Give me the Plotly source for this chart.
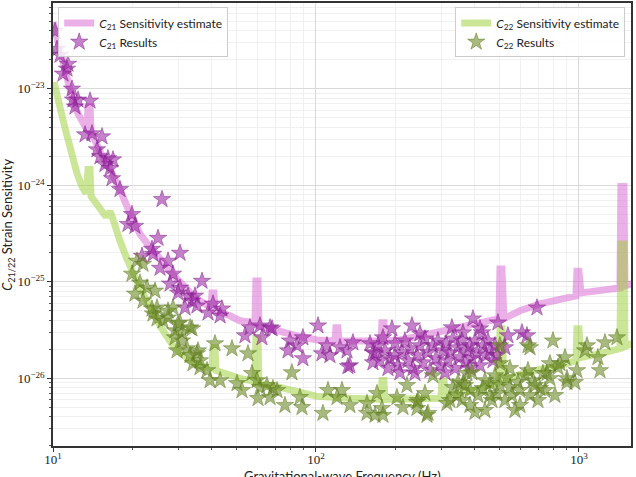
import plotly.graph_objects as go

# ---------------- data ----------------
c21_freq = [10.0, 10.35, 10.82, 11.2, 11.8, 12.45, 13.1, 13.47, 13.59, 13.83, 13.95, 14.44, 15.09, 16.05,
            16.91, 17.98, 19.11, 20.15, 21.42, 22.78, 24.43, 26.2, 27.86, 29.62, 31.77, 34.07, 36.23,
            38.52, 39.89, 40.24, 40.95, 41.3, 43.9, 47.1, 51.4, 56.1, 58.6, 59.1, 60.2, 60.7, 66.9, 73.0,
            79.6, 86.9, 100.9, 118.1, 119.1, 121.2, 122.3, 147.0, 176.6, 178.2, 181.4, 183.0, 208.6,
            248.6, 296.2, 352.7, 420.4, 496.4, 500.8, 509.6, 518.6, 596.8, 710.9, 847.1, 974.1, 982.6,
            1000, 1017.6, 1201.7, 1432, 1444, 1483, 1496, 1591]
c21_sens = [4.9e-23, 3.44e-23, 2.14e-23, 1.33e-23, 8.27e-24, 5.52e-24, 4.06e-24, 3.78e-24, 6.52e-24, 6.52e-24,
            3.6e-24, 2.84e-24, 2.24e-24, 1.69e-24, 1.3e-24, 9.1e-25, 6.07e-25, 4.25e-25, 3.13e-25, 2.52e-25,
            1.99e-25, 1.65e-25, 1.3e-25, 1.07e-25, 8.9e-26, 7.17e-26, 6.37e-26, 5.66e-26, 5.4e-26, 7.7e-26,
            7.7e-26, 5.02e-26, 4.79e-26, 4.46e-26, 3.96e-26, 3.78e-26, 3.78e-26, 1.02e-25, 1.02e-25, 3.52e-26,
            3.28e-26, 2.98e-26, 2.84e-26, 2.71e-26, 2.5e-26, 2.45e-26, 3.36e-26, 3.36e-26, 2.45e-26, 2.4e-26,
            2.45e-26, 3.78e-26, 3.78e-26, 2.45e-26, 2.5e-26, 2.75e-26, 3.05e-26, 3.36e-26, 3.78e-26, 4.16e-26,
            1.36e-25, 1.36e-25, 4.16e-26, 5.02e-26, 5.93e-26, 6.52e-26, 7.17e-26, 1.29e-25, 1.29e-25, 7.7e-26,
            8.07e-26, 8.67e-26, 9.77e-25, 9.77e-25, 9.1e-26, 9.55e-26]

c22_freq = [10.09, 10.35, 10.73, 11.2, 11.71, 12.34, 12.89, 13.35, 13.59, 13.83, 13.95, 14.44, 15.09, 15.76,
            16.18, 16.47, 16.76, 17.21, 17.98, 19.11, 20.15, 21.42, 22.78, 24.0, 25.52, 27.13, 28.6, 30.41,
            33.2, 36.23, 40.24, 40.6, 41.3, 41.67, 47.1, 51.4, 58.6, 59.1, 60.2, 60.7, 73.0, 86.9, 100.9,
            134.6, 176.6, 178.2, 181.4, 183.0, 227.8, 298.8, 301.4, 306.7, 312.1, 352.7, 420.4, 496.4, 500.8,
            509.6, 518.6, 596.8, 710.9, 847.1, 974.1, 982.6, 1000, 1017.6, 1201.7, 1432, 1444, 1483, 1496, 1591]
c22_sens = [1.18e-23, 8.27e-24, 5.79e-24, 3.6e-24, 2.24e-24, 1.33e-24, 9.77e-25, 8.27e-25, 1.46e-24, 1.46e-24,
            7.7e-25, 6.84e-25, 5.79e-25, 4.91e-25, 4.91e-25, 5.4e-25, 4.79e-25, 3.69e-25, 2.65e-25, 1.73e-25,
            1.24e-25, 8.67e-26, 6.37e-26, 4.79e-26, 3.52e-26, 2.71e-26, 2.19e-26, 1.85e-26, 1.53e-26, 1.36e-26,
            1.27e-26, 2.09e-26, 2.09e-26, 1.21e-26, 1.07e-26, 1.0e-26, 9.31e-27, 2.58e-26, 2.58e-26, 8.88e-27,
            8.07e-27, 7.17e-27, 6.52e-27, 6.22e-27, 6.07e-27, 9.53e-27, 9.53e-27, 6.07e-27, 6.07e-27, 6.22e-27,
            1.0e-26, 9.53e-27, 6.68e-27, 7.0e-27, 7.88e-27, 9.1e-27, 3.28e-26, 3.28e-26, 9.53e-27, 1.1e-26,
            1.24e-26, 1.36e-26, 1.53e-26, 3.28e-26, 3.28e-26, 1.65e-26, 1.81e-26, 2.04e-26, 2.47e-25, 2.47e-25,
            2.14e-26, 2.3e-26]

c21_res_freq = [10.18, 10.35, 10.63, 11.4, 11.3, 10.91, 11.81, 11.91, 12.45, 13.83, 12.12, 13.24, 14.07, 15.36,
                14.7, 15.09, 16.18, 16.91, 15.76, 16.47, 16.76, 17.98, 25.97, 19.97, 19.28, 20.5, 25.08, 23.79,
                24.0, 21.8, 30.41, 27.38, 25.52, 28.6, 36.87, 27.86, 30.41, 29.88, 32.62, 34.67, 33.77, 31.77,
                35.28, 40.6, 38.86, 43.9, 43.2, 56.1, 61.25, 66.9, 53.7, 62.3, 79.6, 78.3, 84.7, 68.1, 89.2,
                89.2, 101.8, 110.1, 105.4, 113.0, 123.4, 131.2, 138.2, 134.6, 160.5, 164.7, 179.8, 194.5, 231.7,
                248.6, 328.9, 395.4, 420.4, 492, 362.2, 692.5, 537, 607.3, 634.5, 427.9, 132.3, 167.7, 164.7,
                172.1, 183.0, 191.1, 199.7, 205.0, 212.3, 217.9, 223.8, 227.8, 233.8, 242.1, 248.6, 255.2, 259.7,
                266.6, 271.4, 278.6, 285.9, 291.0, 296.2, 304.0, 312.1, 317.7, 323.2, 331.8, 337.7, 346.7, 352.7,
                359.1, 368.6, 375.1, 385.1, 391.9, 402.4, 409.4, 420.4, 431.5, 443.1, 450.8, 458.7, 471.0, 479.3,
                487.6, 187.8, 208.6, 237.9, 309.4, 385.1, 175.1, 199.7, 523.2]
c21_res_val = [3.96e-23, 2.58e-23, 2.24e-23, 1.81e-23, 1.61e-23, 1.43e-23, 1.0e-23, 7.7e-24, 7.7e-24, 7.52e-24,
               6.52e-24, 3.36e-24, 3.44e-24, 3.2e-24, 2.35e-24, 1.99e-24, 1.9e-24, 1.85e-24, 1.65e-24, 1.5e-24,
               1.18e-24, 9.1e-25, 7.17e-25, 5.02e-25, 3.96e-25, 3.78e-25, 2.84e-25, 2.19e-25, 1.94e-25, 1.85e-25,
               1.99e-25, 1.65e-25, 1.39e-25, 1.21e-25, 1.02e-25, 9.55e-26, 8.67e-26, 7.7e-26, 7.17e-26, 7.17e-26,
               6.37e-26, 5.4e-26, 5.66e-26, 5.93e-26, 4.79e-26, 5.27e-26, 4.46e-26, 3.36e-26, 3.52e-26, 3.36e-26,
               2.78e-26, 2.65e-26, 2.46e-26, 1.94e-26, 2.19e-26, 3.28e-26, 2.65e-26, 1.61e-26, 3.52e-26, 2.19e-26,
               1.81e-26, 1.73e-26, 2.09e-26, 1.94e-26, 2.35e-26, 1.36e-26, 2.3e-26, 1.85e-26, 2.65e-26, 3.28e-26,
               3.52e-26, 2.91e-26, 3.36e-26, 4.16e-26, 3.28e-26, 3.78e-26, 2.98e-26, 5.4e-26, 2.78e-26, 2.98e-26,
               2.78e-26, 2.98e-26, 1.33e-26, 1.81e-26, 1.46e-26,
               2.19e-26, 1.94e-26, 1.61e-26, 2.3e-26, 1.36e-26, 1.85e-26, 2.46e-26, 1.53e-26, 2.04e-26, 1.27e-26,
               1.73e-26, 2.19e-26, 1.46e-26, 2.58e-26, 1.85e-26, 1.21e-26, 2.19e-26, 1.61e-26, 2.46e-26, 1.36e-26,
               1.94e-26, 2.3e-26, 1.53e-26, 1.85e-26, 2.58e-26, 1.27e-26, 2.09e-26, 1.65e-26, 2.46e-26, 1.46e-26,
               1.94e-26, 2.19e-26, 1.61e-26, 2.46e-26, 1.81e-26, 1.36e-26, 2.19e-26, 1.73e-26, 2.46e-26, 1.94e-26,
               1.53e-26, 2.19e-26, 1.73e-26, 1.27e-26, 1.15e-26, 1.13e-26, 1.15e-26, 1.27e-26, 1.53e-26, 1.73e-26,
               2.09e-26]

c22_res_freq = [20.86, 21.99, 19.97, 21.42, 20.5, 22.78, 24.43, 21.99, 24.86, 24.0, 27.38, 26.2, 30.41, 33.77,
                29.1, 30.95, 29.62, 32.33, 35.28, 34.07, 36.23, 23.79, 28.6, 24.86, 27.38, 29.88, 33.2, 30.95,
                29.1, 35.59, 33.2, 36.23, 41.3, 47.93, 55.14, 38.52, 39.54, 43.2, 57.1, 59.7, 50.1, 52.33, 61.25,
                68.6, 60.2, 66.9, 81.0, 76.2, 71.1, 65.1, 86.9, 111.1, 125.6, 120.2, 88.5, 106.3, 134.6, 156.3,
                170.6, 178.2, 221.8, 203.2, 214.2, 242.1, 156.3, 167.7, 179.8, 242.1, 259.7, 278.6, 244.2, 264.2,
                331.8, 343.6, 362.2, 314.8, 375.1, 266.6, 323.2, 346.7, 391.9, 458.7, 500.8, 500.8, 487.6, 532.3,
                546.5, 586.1, 640, 640, 668.7, 710.9, 755.7, 796.4, 832.1, 885, 900.6, 965.6, 1073, 1181, 1256,
                1202, 1395, 1054, 651.4, 847.1, 775.8, 729.8, 900.6, 982.6,
                359.1, 385.1, 413.0, 439.2, 466.9, 523.2, 556.2, 596.8, 651.4, 698.6, 742.6, 810.5, 431.5, 571.2,
                385.1, 479.3, 368.6, 439.2, 500.8, 596.8, 680.5, 775.8, 623.4, 546.5, 458.7, 402.4]
c22_res_val = [1.65e-25, 1.53e-25, 1.21e-25, 9.77e-26, 7.52e-26, 8.67e-26, 8.07e-26, 6.37e-26, 5.4e-26, 4.68e-26,
               5.02e-26, 3.96e-26, 3.78e-26, 3.28e-26, 3.13e-26, 2.46e-26, 1.94e-26, 2.04e-26, 1.81e-26, 1.43e-26,
               1.3e-26, 5.27e-26, 5.4e-26, 4.16e-26, 4.25e-26, 3.7e-26, 3.36e-26, 2.98e-26, 2.65e-26, 1.94e-26,
               1.73e-26, 1.53e-26, 2.3e-26, 2.04e-26, 1.81e-26, 1.21e-26, 9.53e-27, 9.53e-27, 1.13e-26, 9.53e-27,
               8.88e-27, 7.52e-27, 8.07e-27, 7.88e-27, 6.22e-27, 6.37e-27, 1.15e-26, 5.27e-27, 7.52e-27, 8.47e-27,
               6.37e-27, 7.52e-27, 7.52e-27, 6.37e-27, 5.02e-27, 4.36e-27, 5.27e-27, 5.52e-27, 7.0e-27, 4.91e-27,
               8.47e-27, 6.37e-27, 5.02e-27, 5.66e-27, 4.36e-27, 4.16e-27, 4.16e-27, 4.91e-27, 7.0e-27, 1.07e-26,
               5.93e-27, 4.16e-27, 8.07e-27, 6.68e-27, 8.88e-27, 5.52e-27, 1.13e-26, 4.36e-27, 5.93e-27, 9.1e-27,
               1.15e-26, 8.88e-27, 2.19e-26, 1.43e-26, 7.0e-27, 1.02e-26, 8.07e-27, 9.1e-27, 2.19e-26, 1.21e-26,
               9.53e-27, 7.88e-27, 1.13e-26, 2.46e-26, 1.3e-26, 1.65e-26, 9.1e-27, 9.1e-27, 2.19e-26, 1.65e-26,
               2.35e-26, 1.21e-26, 2.65e-26, 1.94e-26, 2.09e-26, 1.43e-26, 1.43e-26, 1.13e-26, 1.0e-26, 1.21e-26,
               5.93e-27, 5.27e-27, 6.68e-27, 4.68e-27, 5.93e-27, 5.93e-27, 6.68e-27, 5.27e-27, 6.68e-27, 5.93e-27,
               7.52e-27, 6.68e-27, 7.88e-27, 4.68e-27, 7.52e-27, 1.07e-26, 8.47e-27, 9.53e-27, 8.47e-27, 7.52e-27,
               8.47e-27, 1.0e-26, 1.07e-26, 1.27e-26, 6.68e-27, 4.47e-27]

x_tick_vals = [10, 100, 1000]
x_tick_text = ["10<sup>1</sup>", "10<sup>2</sup>", "10<sup>3</sup>"]
y_tick_vals = [1e-26, 1e-25, 1e-24, 1e-23]
y_tick_text = ["10<sup>\u221226</sup>", "10<sup>\u221225</sup>", "10<sup>\u221224</sup>", "10<sup>\u221223</sup>"]

x_minor = [m * 10 ** e for e in (1, 2, 3) for m in range(2, 10)]
y_minor = [m * 10.0 ** e for e in (-27, -26, -25, -24, -23) for m in range(2, 10)]

# ---------------- figure ----------------
SANS = "Lato, 'Open Sans', sans-serif"
SERIF = "'Liberation Serif', serif"

fig = go.Figure()
fig.add_trace(go.Scatter(x=c21_freq, y=c21_sens, mode="lines",
                         line=dict(color="rgba(218,112,214,0.55)", width=7),
                         name="<i>C</i><sub>21</sub> Sensitivity estimate", legend="legend"))
fig.add_trace(go.Scatter(x=c22_freq, y=c22_sens, mode="lines",
                         line=dict(color="rgba(154,205,50,0.5)", width=7),
                         name="<i>C</i><sub>22</sub> Sensitivity estimate", legend="legend2"))
fig.add_trace(go.Scatter(x=c21_res_freq, y=c21_res_val, mode="markers",
                         marker=dict(symbol="star", size=13, color="rgba(155,40,165,0.58)",
                                     line=dict(color="rgba(120,20,130,0.75)", width=0.6)),
                         name="<i>C</i><sub>21</sub> Results", legend="legend"))
fig.add_trace(go.Scatter(x=c22_res_freq, y=c22_res_val, mode="markers",
                         marker=dict(symbol="star", size=13, color="rgba(110,140,40,0.6)",
                                     line=dict(color="rgba(85,115,25,0.75)", width=0.6)),
                         name="<i>C</i><sub>22</sub> Results", legend="legend2"))

axis_common = dict(showline=True, linecolor="#333333", linewidth=1.5, mirror=True,
                   ticks="outside", ticklen=4, tickcolor="#333333",
                   showgrid=True, gridcolor="#d9d9d9", gridwidth=1, zeroline=False,
                   tickfont=dict(family=SERIF, size=13, color="#222222"))

fig.update_xaxes(type="log", range=[1, 3.198], tickvals=x_tick_vals, ticktext=x_tick_text,
                 ticklabelstandoff=-3,
                 minor=dict(tickvals=x_minor, ticks="outside", ticklen=2, tickcolor="#555555",
                            showgrid=True, gridcolor="#f0f0f0"),
                 **axis_common)
fig.update_yaxes(type="log", range=[-26.70, -22.11], tickvals=y_tick_vals, ticktext=y_tick_text,
                 minor=dict(tickvals=y_minor, ticks="outside", ticklen=2, tickcolor="#555555",
                            showgrid=True, gridcolor="#f0f0f0"),
                 **axis_common)

legend_common = dict(bgcolor="rgba(255,255,255,0.85)", bordercolor="#cccccc", borderwidth=1,
                     font=dict(family=SANS, size=12, color="#222222"), tracegroupgap=0,
                     itemwidth=30)
fig.update_layout(
    width=636, height=477,
    margin=dict(l=53, r=5, t=1, b=31),
    paper_bgcolor="white", plot_bgcolor="white",
    showlegend=True,
    legend=dict(x=0.009, y=0.99, xanchor="left", yanchor="top", **legend_common),
    legend2=dict(x=0.99, y=0.99, xanchor="right", yanchor="top", **legend_common),
    annotations=[
        dict(text="Gravitational-wave Frequency (Hz)", x=0.5, y=-0.068, xref="paper", yref="paper",
             xanchor="center", yanchor="middle", showarrow=False,
             font=dict(family=SANS, size=13, color="#222222")),
        dict(text="<i>C</i><sub>21/22</sub> Strain Sensitivity", x=-0.079, y=0.5, xref="paper", yref="paper",
             xanchor="center", yanchor="middle", textangle=-90, showarrow=False,
             font=dict(family=SANS, size=13, color="#222222")),
    ],
)

fig.write_html("out.html")
